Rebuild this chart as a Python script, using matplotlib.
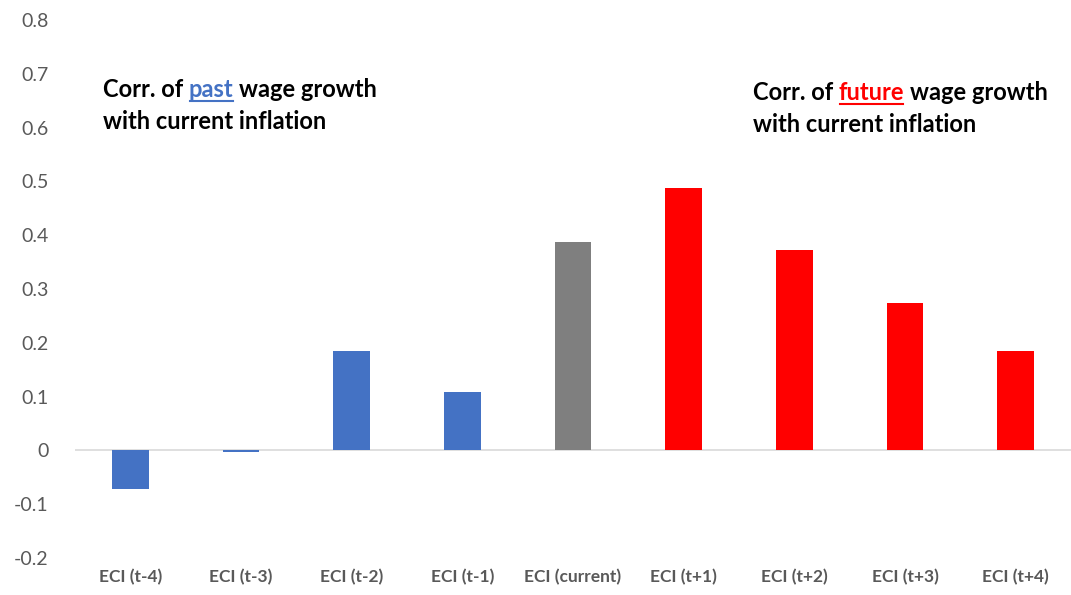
import matplotlib
matplotlib.use("Agg")
import matplotlib.pyplot as plt
from matplotlib.lines import Line2D

categories = ["ECI (t-4)", "ECI (t-3)", "ECI (t-2)", "ECI (t-1)", "ECI (current)",
              "ECI (t+1)", "ECI (t+2)", "ECI (t+3)", "ECI (t+4)"]
values = [-0.071, -0.003, 0.185, 0.108, 0.388, 0.487, 0.373, 0.274, 0.184]
groups = ["past", "past", "past", "past", "current", "future", "future", "future", "future"]
yticks = [-0.2, -0.1, 0, 0.1, 0.2, 0.3, 0.4, 0.5, 0.6, 0.7, 0.8]
ytick_labels = ["-0.2", "-0.1", "0", "0.1", "0.2", "0.3", "0.4", "0.5", "0.6", "0.7", "0.8"]

group_colors = {"past": "#4472C4", "current": "#7F7F7F", "future": "#FF0000"}
colors = [group_colors[g] for g in groups]

FONT = ["Lato", "DejaVu Sans"]
plt.rcParams["font.family"] = FONT

W, H = 1071, 595
fig = plt.figure(figsize=(W / 100, H / 100), dpi=100)
ax = fig.add_axes([75 / W, 37 / H, (W - 75) / W, 538 / H])

x = list(range(len(categories)))
ax.bar(x, values, width=0.33, color=colors, zorder=3)
ax.axhline(0, color="#D9D9D9", lw=1.2, zorder=2)

ax.set_xlim(-0.5, len(categories) - 0.5)
ax.set_ylim(-0.2, 0.8)
ax.set_yticks(yticks)
ax.set_yticklabels(ytick_labels, fontsize=14, color="#595959")
ax.set_xticks(x)
ax.set_xticklabels(categories, fontsize=12.5, color="#595959", fontweight="bold")
ax.tick_params(axis="both", length=0)
ax.tick_params(axis="y", pad=19)
ax.tick_params(axis="x", pad=8)
for s in ax.spines.values():
    s.set_visible(False)

fig.canvas.draw()
renderer = fig.canvas.get_renderer()
FS = 17

sp = fig.text(0, 0, "a a", fontsize=FS, fontweight="bold")
w_aa = sp.get_window_extent(renderer=renderer).width
sa = fig.text(0, 0, "aa", fontsize=FS, fontweight="bold")
w_space = w_aa - sa.get_window_extent(renderer=renderer).width
sp.remove(); sa.remove()


def rich(px, py, parts):
    cur = px
    for txt, col, ul in parts:
        lead = len(txt) - len(txt.lstrip(" "))
        trail = len(txt) - len(txt.rstrip(" "))
        cur += lead * w_space
        core = txt.strip(" ")
        t = fig.text(cur / W, 1 - py / H, core, fontsize=FS, fontweight="bold",
                     color=col, ha="left", va="baseline")
        bb = t.get_window_extent(renderer=renderer)
        if ul:
            yl = 1 - (py + 4) / H
            fig.add_artist(Line2D([bb.x0 / W + 1 / W, bb.x1 / W - 1 / W], [yl, yl],
                                  color=col, lw=1.5))
        cur = bb.x1 + trail * w_space

rich(103, 97, [("Corr. of ", "black", False), ("past", "#4472C4", True),
               (" wage growth", "black", False)])
rich(103, 129, [("with current inflation", "black", False)])
rich(753, 100, [("Corr. of ", "black", False), ("future", "#FF0000", True),
                (" wage growth", "black", False)])
rich(753, 132, [("with current inflation", "black", False)])

fig.savefig("out.png", dpi=100, facecolor="white")
